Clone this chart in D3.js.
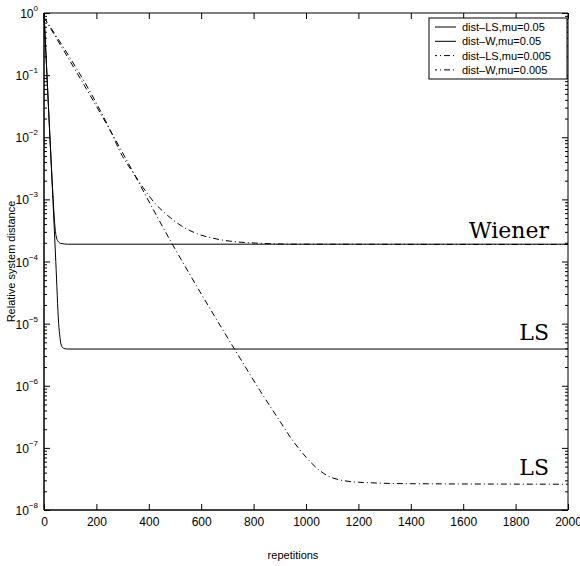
<!DOCTYPE html>
<html>
<head>
<meta charset="utf-8">
<script src="https://cdn.jsdelivr.net/npm/d3@7"></script>
<style>
  body { margin: 0; background: #fff; }
  svg { display: block; font-family: "Liberation Sans", Arial, sans-serif; }
</style>
</head>
<body>
<div id="chart"></div>
<script>
// values (repetitions, relative distance)
var lsFastX = [0, 10, 20, 34, 45, 56, 61, 66, 75, 90, 2000];
var lsFastY = [1, 0.13, 0.017, 1e-3, 1e-4, 1e-5, 6e-6, 4.5e-6, 4e-6, 3.9e-6, 3.9e-6];

var wFastX = [0, 10, 20, 34, 40, 46, 54, 65, 90, 2000];
var wFastY = [1, 0.13, 0.017, 1.2e-3, 4.5e-4, 2.6e-4, 2.1e-4, 1.95e-4, 1.9e-4, 1.9e-4];

var lsSlowX = [0, 250, 500, 750, 824, 900, 950, 1000, 1050, 1100, 1200, 1400, 2000];
var lsSlowY = [0.85, 0.0135, 1.6e-4, 2.7e-6, 8.4e-7, 2.7e-7, 1.3e-7, 7.1e-8, 4.4e-8, 3.3e-8, 2.8e-8, 2.65e-8, 2.6e-8];

var wSlowX = [0, 250, 300, 340, 378, 420, 470, 531, 595, 660, 786, 977, 2000];
var wSlowY = [0.85, 0.0137, 4.9e-3, 2.7e-3, 1.55e-3, 9e-4, 5.6e-4, 3.6e-4, 2.7e-4, 2.3e-4, 2.0e-4, 1.9e-4, 1.88e-4];

var legendLabels = ["dist\u2013LS,mu=0.05", "dist\u2013W,mu=0.05", "dist\u2013LS,mu=0.005", "dist\u2013W,mu=0.005"];
var xTicks = [0, 200, 400, 600, 800, 1000, 1200, 1400, 1600, 1800, 2000];
var yExps = [0, -1, -2, -3, -4, -5, -6, -7, -8];

// dimensions
var W = 580, H = 566;
var margin = {top: 13, right: 12, bottom: 56, left: 44};
var width = W - margin.left - margin.right,
    height = H - margin.top - margin.bottom;

var svg = d3.select("#chart").append("svg")
    .attr("width", W)
    .attr("height", H);

var g = svg.append("g")
    .attr("transform", "translate(" + margin.left + "," + margin.top + ")");

var x = d3.scaleLinear().domain([0, 2000]).range([0, width]);
var y = d3.scaleLog().domain([1e-8, 1]).range([height, 0]);

var majorY = yExps.map(e => Math.pow(10, e));
var minorY = y.ticks().filter(v => Math.abs(Math.log10(v) - Math.round(Math.log10(v))) > 1e-6);

// bottom axis, ticks inward
g.append("g")
  .attr("transform", "translate(0," + height + ")")
  .call(d3.axisBottom(x).tickValues(xTicks).tickSizeInner(-6).tickSizeOuter(0).tickPadding(7).tickFormat(d3.format("d")))
  .call(a => a.select(".domain").remove())
  .call(a => a.selectAll("text").attr("font-size", "12px").attr("fill", "#000").attr("font-family", "Liberation Sans, Arial, sans-serif"));

// top axis, ticks only
g.append("g")
  .call(d3.axisTop(x).tickValues(xTicks).tickSizeInner(-6).tickSizeOuter(0).tickFormat(""))
  .call(a => a.select(".domain").remove());

// left axis major + minor
g.append("g")
  .call(d3.axisLeft(y).tickValues(majorY).tickSizeInner(-6).tickSizeOuter(0).tickFormat(""))
  .call(a => a.select(".domain").remove());
g.append("g")
  .call(d3.axisLeft(y).tickValues(minorY).tickSizeInner(-3).tickSizeOuter(0).tickFormat(""))
  .call(a => a.select(".domain").remove());

// right axis major + minor
g.append("g")
  .attr("transform", "translate(" + width + ",0)")
  .call(d3.axisRight(y).tickValues(majorY).tickSizeInner(-6).tickSizeOuter(0).tickFormat(""))
  .call(a => a.select(".domain").remove());
g.append("g")
  .attr("transform", "translate(" + width + ",0)")
  .call(d3.axisRight(y).tickValues(minorY).tickSizeInner(-3).tickSizeOuter(0).tickFormat(""))
  .call(a => a.select(".domain").remove());

// y tick labels 10^e
var ylab = g.selectAll(".ylab")
  .data(yExps)
  .enter()
  .append("text")
    .attr("class", "ylab")
    .attr("x", -6)
    .attr("y", d => y(Math.pow(10, d)) + 5)
    .attr("text-anchor", "end")
    .attr("font-size", "12px")
    .attr("fill", "#000");
ylab.append("tspan").text("10");
ylab.append("tspan")
    .attr("dy", -7)
    .attr("font-size", "8px")
    .text(d => d == 0 ? "0" : "\u2212" + (-d));

// box
g.append("line").attr("x1", 0).attr("x2", width).attr("y1", 0).attr("y2", 0).attr("stroke", "#000");
g.append("line").attr("x1", width).attr("x2", width).attr("y1", 0).attr("y2", height).attr("stroke", "#000");
g.append("line").attr("x1", 0).attr("x2", 0).attr("y1", 0).attr("y2", height).attr("stroke", "#000").attr("stroke-width", 1.5);
g.append("line").attr("x1", 0).attr("x2", width).attr("y1", height).attr("y2", height).attr("stroke", "#000").attr("stroke-width", 1.5);

// lines
var line = d3.line()
  .x(d => x(d[0]))
  .y(d => y(d[1]))
  .curve(d3.curveMonotoneX);

var series = [
  {xs: lsFastX, ys: lsFastY, dash: null},
  {xs: wFastX, ys: wFastY, dash: null},
  {xs: lsSlowX, ys: lsSlowY, dash: "6,3,1,3"},
  {xs: wSlowX, ys: wSlowY, dash: "6,3,1,3"}
];

g.selectAll(".series")
  .data(series)
  .enter()
  .append("path")
    .attr("class", "series")
    .attr("d", s => line(s.xs.map((v, i) => [v, s.ys[i]])))
    .attr("fill", "none")
    .attr("stroke", "#000")
    .attr("stroke-width", 1)
    .attr("stroke-dasharray", s => s.dash);

// annotations
var notes = [["Wiener", 1.9e-4, 6], ["LS", 3.9e-6, 9], ["LS", 2.6e-8, 9]];
g.selectAll(".note")
  .data(notes)
  .enter()
  .append("text")
    .attr("x", width - 19)
    .attr("y", d => y(d[1]) - d[2])
    .attr("text-anchor", "end")
    .attr("font-family", "DejaVu Serif, serif")
    .attr("font-size", "22px")
    .attr("fill", "#000")
    .text(d => d[0]);

// legend
var lg = svg.append("g").attr("transform", "translate(429,18)");
lg.append("rect")
  .attr("width", 138)
  .attr("height", 61)
  .attr("fill", "#fff")
  .attr("stroke", "#000");
var items = lg.selectAll(".item")
  .data(legendLabels)
  .enter()
  .append("g")
    .attr("transform", (d, i) => "translate(0," + (9 + i * 14.3) + ")");
items.append("line")
  .attr("x1", 6).attr("x2", 27)
  .attr("stroke", "#000")
  .attr("stroke-dasharray", (d, i) => i < 2 ? null : "6,3,1,3")
  .attr("stroke-dashoffset", (d, i) => i < 2 ? 0 : 4);
items.append("text")
  .attr("x", 33)
  .attr("y", 4)
  .attr("font-size", "11px")
  .attr("fill", "#000")
  .text(d => d);

// axis titles
svg.append("text")
  .attr("x", 293)
  .attr("y", 559)
  .attr("text-anchor", "middle")
  .attr("font-size", "11px")
  .text("repetitions");

svg.append("text")
  .attr("transform", "translate(15," + (margin.top + height / 2) + ") rotate(-90)")
  .attr("text-anchor", "middle")
  .attr("font-size", "11px")
  .text("Relative system distance");
</script>
</body>
</html>
